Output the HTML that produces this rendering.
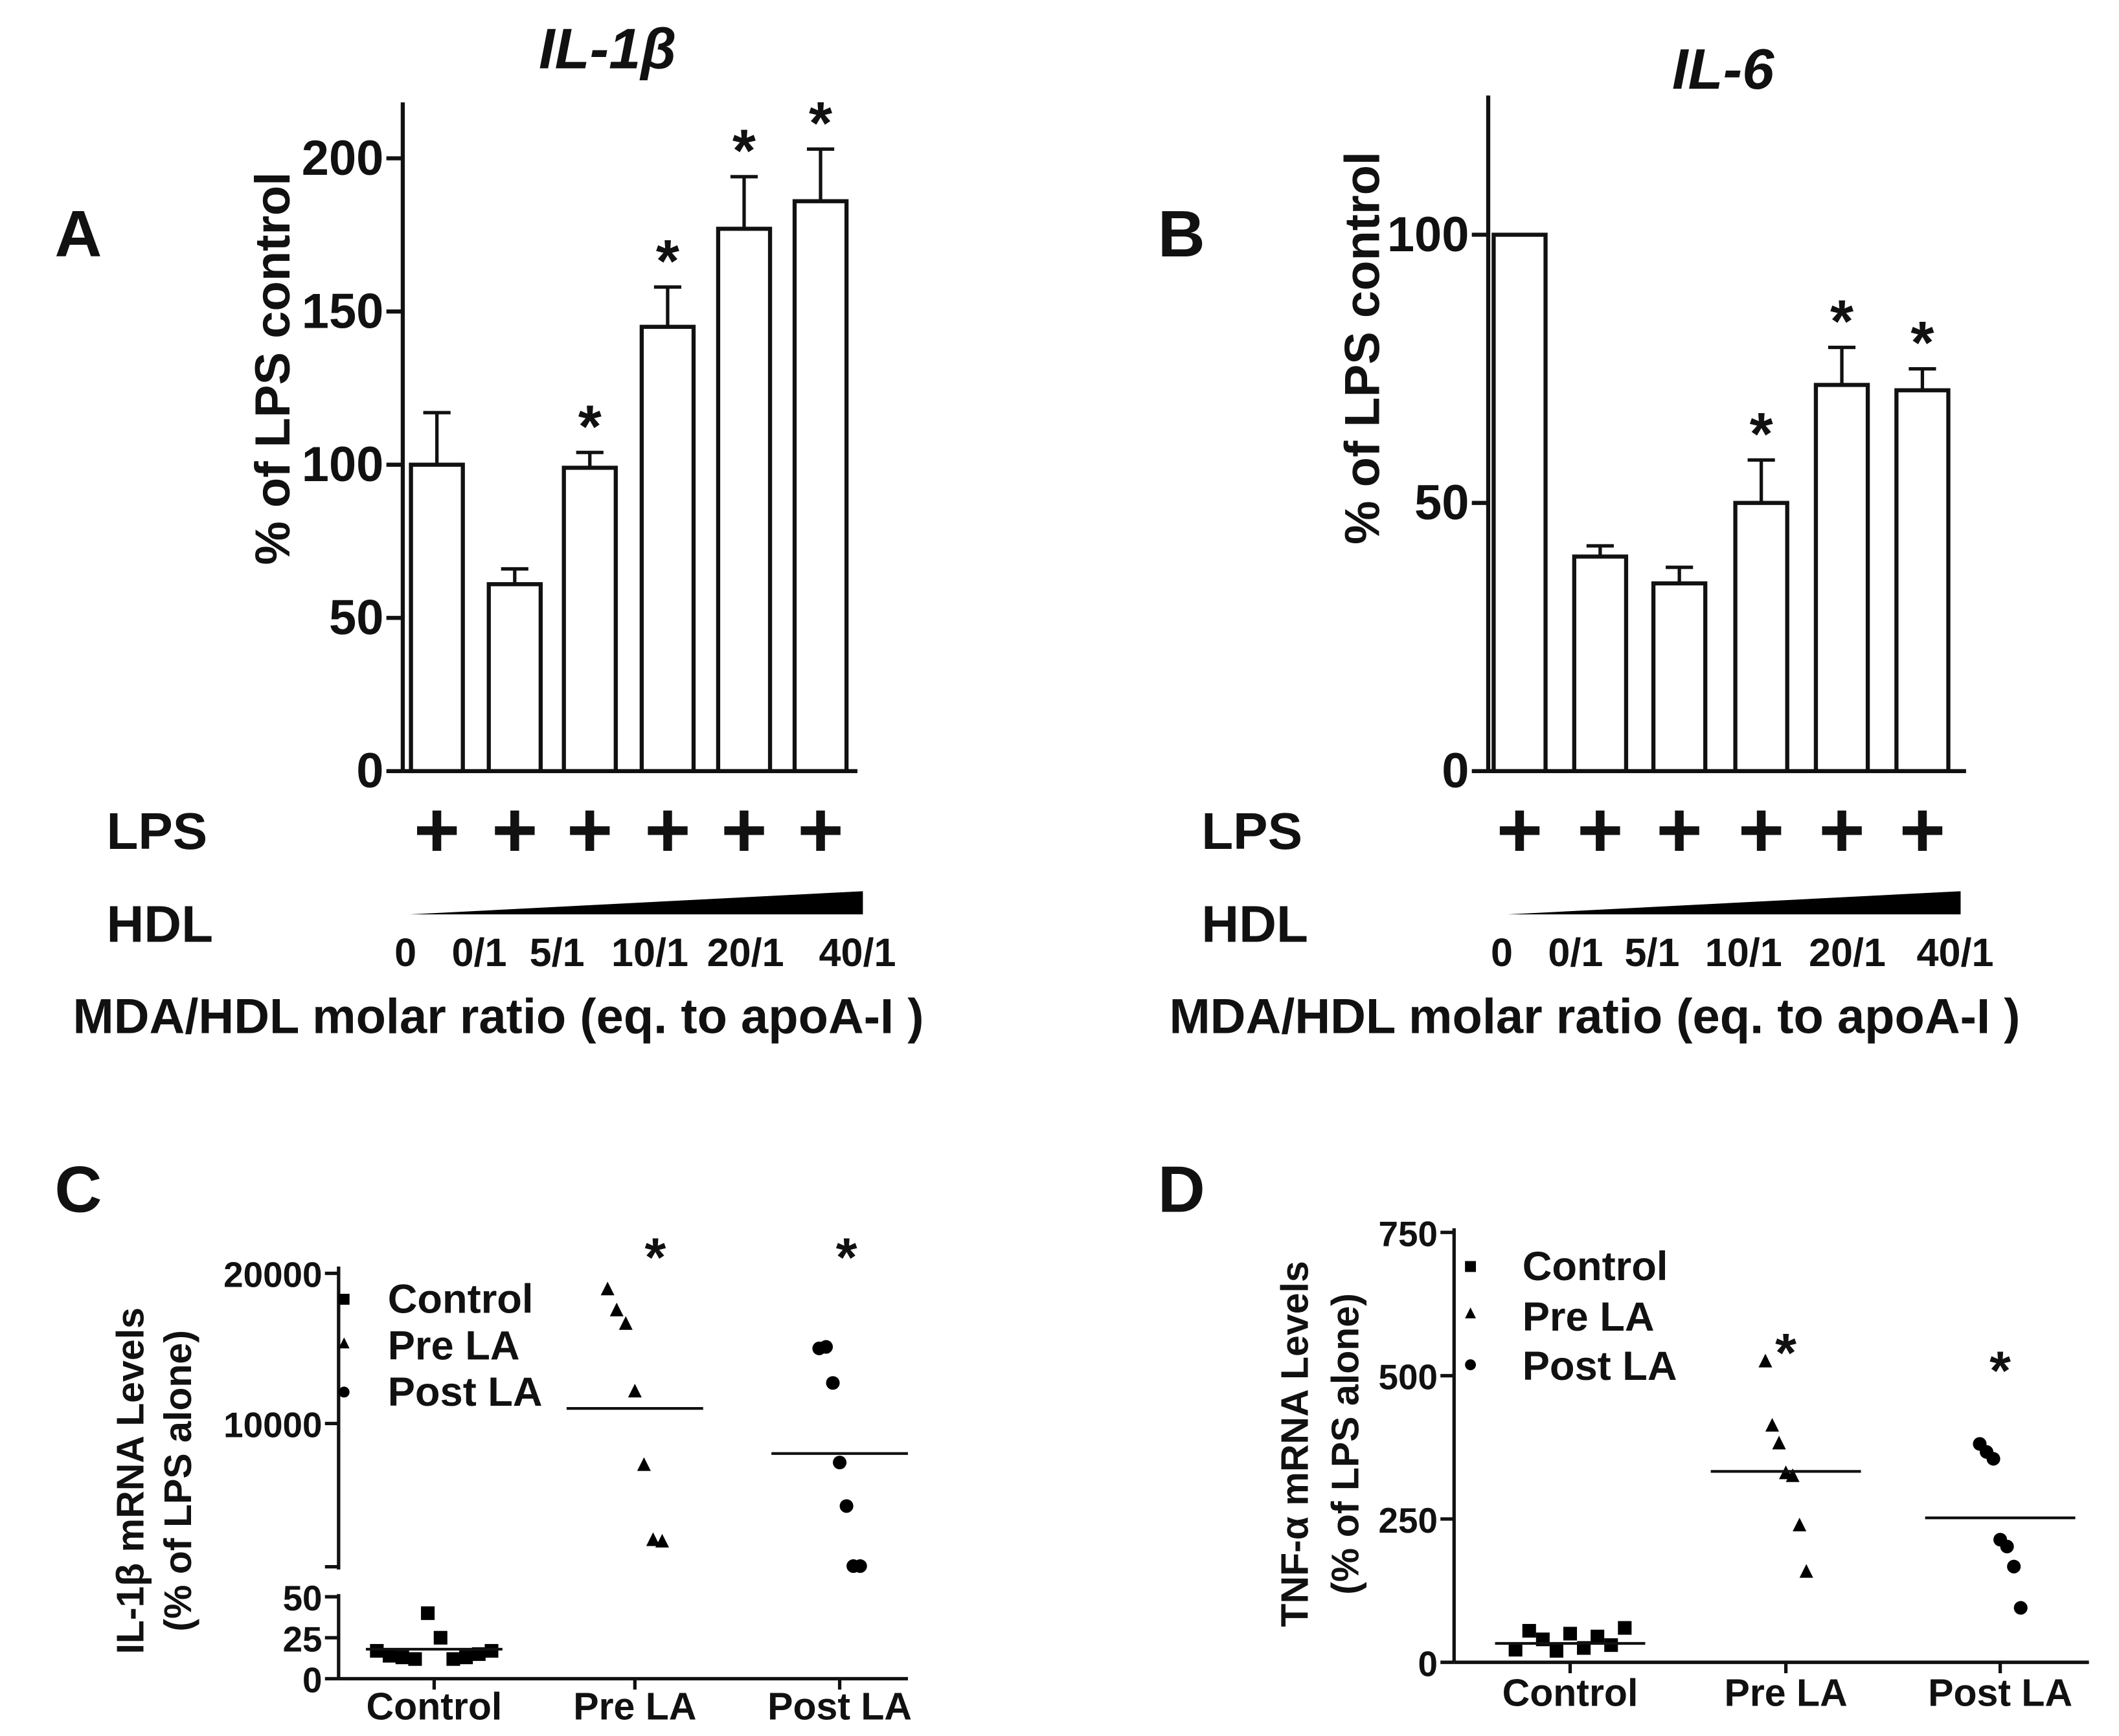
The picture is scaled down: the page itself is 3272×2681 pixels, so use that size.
<!DOCTYPE html>
<html><head><meta charset="utf-8"><style>
html,body{margin:0;padding:0;background:#fff}
svg{display:block}
text{font-family:"Liberation Sans",Arial,sans-serif;font-weight:bold;fill:#111}
</style></head><body>
<svg id="fig" width="3272" height="2681" viewBox="0 0 1552 1272" preserveAspectRatio="none" xmlns="http://www.w3.org/2000/svg"></svg>
<script>
// Panel A data
const aCats=["0","0/1","5/1","10/1","20/1","40/1"];
const aVals=[100,61,99,145,177,186];
const aErr=[17,5,5,13,17,17];
const aStar=[false,false,true,true,true,true];
const aTicks=[0,50,100,150,200];
// Panel B data
const bCats=["0","0/1","5/1","10/1","20/1","40/1"];
const bVals=[100,40,35,50,72,71];
const bErr=[0,2,3,8,7,4];
const bStar=[false,false,false,true,true,true];
const bTicks=[0,50,100];
// Panel C data
const cCats=["Control","Pre LA","Post LA"];
const cControl=[17,14,13,12,40,25,12,13,15,17];
const cPre=[18900,17500,16600,12100,7200,2200,2100];
const cPost=[15000,15100,12700,7400,4500,500,500];
const cMeans=[18,11000,8000];
const cTicksHi=[10000,20000];
const cTicksLo=[0,25,50];
// Panel D data
const dCats=["Control","Pre LA","Post LA"];
const dControl=[22,55,40,20,50,25,45,30,60];
const dPre=[524,412,381,329,324,238,157];
const dPost=[381,367,355,214,202,167,95];
const dMeans=[33,333,252];
const dTicks=[0,250,500,750];

const NS="http://www.w3.org/2000/svg";
const svg=document.getElementById('fig');
function el(tag,attrs,parent){const e=document.createElementNS(NS,tag);for(const k in attrs)e.setAttribute(k,attrs[k]);(parent||svg).appendChild(e);return e;}
function txt(s,x,y,size,anchor,name,extra){const t=el('text',Object.assign({x:x,y:y,'font-size':size,'text-anchor':anchor||'start'},extra||{}));t.textContent=s;


return t;}
function line(x1,y1,x2,y2,w,name){const l=el('line',{x1,y1,x2,y2,stroke:'#111','stroke-width':w||2.5});


return l;}

function barPanel(cfg){
  const {vals,err,star,ticks,cats,ax,y0,y1,v1,top,right,centers,bw,labelX}=cfg;
  const sy=v=>y0-(v/v1)*(y0-y1);
  line(ax,top,ax,y0,3,cfg.p+'-y-axis');
  line(ax,y0,right,y0,3,cfg.p+'-x-axis');
  ticks.forEach(t=>{line(ax-12,sy(t),ax,sy(t),3,cfg.p+'-y-tick');txt(String(t),ax-14,sy(t)+12,36,'end',cfg.p+'-y-tick-label');});
  vals.forEach((v,i)=>{
    const cx=centers[i];
    if(err[i]>0){line(cx,sy(v+err[i]),cx,sy(v),2.5,cfg.p+'-error-bar');line(cx-10,sy(v+err[i]),cx+10,sy(v+err[i]),2.5,cfg.p+'-error-cap');}
    const r=el('rect',{x:cx-bw/2,y:sy(v),width:bw,height:y0-sy(v),fill:'#fff',stroke:'#111','stroke-width':3});
    
    
    if(star[i])txt('*',cx,sy(v+err[i])-4,44,'middle',cfg.p+'-significance-star');
    txt('+',cx,628,58,'middle',cfg.p+'-lps-plus');
    txt(cats[i],labelX[i],708,29,'middle',cfg.p+'-ratio-label');
  });
  const tri=el('polygon',{points:`${cfg.wx1},670 ${cfg.wx2},653 ${cfg.wx2},670`,fill:'#000'});
  
  
}

// Panel A
txt('IL-1β',445,50,42,'middle','title-il1b',{'font-style':'italic'});
txt('A',40,188,48,'start','panel-label-a');
barPanel({p:'a',vals:aVals,err:aErr,star:aStar,ticks:aTicks,cats:aCats,ax:295,y0:565,y1:116,v1:200,top:75,right:628,centers:[320,377,432,489,545,601],bw:38,wx1:300,wx2:632,labelX:[297,351,408,476,546,628]});
txt('% of LPS control',0,0,36,'middle','a-y-axis-title',{transform:'translate(212,270) rotate(-90)'});
txt('LPS',78,622,38,'start','a-lps-label');
txt('HDL',78,690,38,'start','a-hdl-label');
txt('MDA/HDL molar ratio (eq. to apoA-I )',365,757,36,'middle','a-x-axis-title');

// Panel B
txt('IL-6',1262,65,42,'middle','title-il6',{'font-style':'italic'});
txt('B',848,188,48,'start','panel-label-b');
barPanel({p:'b',vals:bVals,err:bErr,star:bStar,ticks:bTicks,cats:bCats,ax:1090,y0:565,y1:172,v1:100,top:70,right:1440,centers:[1113,1172,1230,1290,1349,1408],bw:38,wx1:1104,wx2:1436,labelX:[1100,1154,1210,1277,1353,1432]});
txt('% of LPS control',0,0,36,'middle','b-y-axis-title',{transform:'translate(1010,255) rotate(-90)'});
txt('LPS',880,622,38,'start','b-lps-label');
txt('HDL',880,690,38,'start','b-hdl-label');
txt('MDA/HDL molar ratio (eq. to apoA-I )',1168,757,36,'middle','b-x-axis-title');

function marker(kind,x,y,s,name){
  let m;
  if(kind==='sq')m=el('rect',{x:x-s,y:y-s,width:2*s,height:2*s,fill:'#000'});
  else if(kind==='tri')m=el('polygon',{points:`${x},${y-s-1} ${x-s},${y+s-1} ${x+s},${y+s-1}`,fill:'#000'});
  else m=el('circle',{cx:x,cy:y,r:s,fill:'#000'});
  
  
}
function spread(n,cx,w){const a=[];for(let i=0;i<n;i++)a.push(cx-w/2+(n>1?i*w/(n-1):0));return a;}

// Panel C
txt('C',40,888,48,'start','panel-label-c');
const cx0=248,cCenters=[318,465,615];
const cHi=v=>1043-(v-10000)*0.011;
const cLo=v=>1230-v*1.2;
const cY=v=>v<=60?cLo(v):cHi(v);
line(cx0,928,cx0,1150,2.5,'c-y-axis-upper');
line(cx0,1168,cx0,1230,2.5,'c-y-axis-lower');
line(cx0,1230,665,1230,2.5,'c-x-axis');
cTicksHi.forEach(t=>{line(cx0-10,cHi(t),cx0,cHi(t),2.5,'c-y-tick');txt(String(t),cx0-12,cHi(t)+10,26,'end','c-y-tick-label');});
line(cx0-10,1148,cx0,1148,2.5,'c-y-tick');
cTicksLo.forEach(t=>{line(cx0-10,cLo(t),cx0,cLo(t),2.5,'c-y-tick');txt(String(t),cx0-12,cLo(t)+10,26,'end','c-y-tick-label');});
cCats.forEach((c,i)=>{line(cCenters[i],1230,cCenters[i],1238,2.5,'c-x-tick');txt(c,cCenters[i],1260,28,'middle','c-x-tick-label');});
txt('IL-1β mRNA Levels',0,0,28,'middle','c-y-axis-title',{transform:'translate(105,1085) rotate(-90)'});
txt('(% of LPS alone)',0,0,28,'middle','c-y-axis-title-2',{transform:'translate(140,1085) rotate(-90)'});
spread(cControl.length,cCenters[0],84).forEach((x,i)=>marker('sq',x,cY(cControl[i]),5,'c-control-point'));
spread(cPre.length,cCenters[1],40).forEach((x,i)=>marker('tri',x,cY(cPre[i]),5,'c-prela-point'));
spread(cPost.length,cCenters[2],30).forEach((x,i)=>marker('dot',x,cY(cPost[i]),5,'c-postla-point'));
cMeans.forEach((m,i)=>line(cCenters[i]-50,cY(m),cCenters[i]+50,cY(m),2,'c-mean-line'));
txt('*',cCenters[1]+15,935,40,'middle','c-star');
txt('*',cCenters[2]+5,935,40,'middle','c-star');
marker('sq',252,952,4,'c-legend-control');marker('tri',252,985,4,'c-legend-prela');marker('dot',252,1020,4,'c-legend-postla');
txt('Control',284,962,30,'start','c-legend-text');
txt('Pre LA',284,996,30,'start','c-legend-text');
txt('Post LA',284,1030,30,'start','c-legend-text');

// Panel D
txt('D',848,888,48,'start','panel-label-d');
const dx0=1065,dCenters=[1150,1308,1465];
const dY=v=>1218-v*0.42;
line(dx0,900,dx0,1218,2.5,'d-y-axis');
line(dx0,1218,1530,1218,2.5,'d-x-axis');
dTicks.forEach(t=>{line(dx0-10,dY(t),dx0,dY(t),2.5,'d-y-tick');txt(String(t),dx0-12,dY(t)+10,26,'end','d-y-tick-label');});
dCats.forEach((c,i)=>{line(dCenters[i],1218,dCenters[i],1226,2.5,'d-x-tick');txt(c,dCenters[i],1250,28,'middle','d-x-tick-label');});
txt('TNF-α mRNA Levels',0,0,28,'middle','d-y-axis-title',{transform:'translate(958,1058) rotate(-90)'});
txt('(% of LPS alone)',0,0,28,'middle','d-y-axis-title-2',{transform:'translate(995,1058) rotate(-90)'});
spread(dControl.length,dCenters[0],80).forEach((x,i)=>marker('sq',x,dY(dControl[i]),5,'d-control-point'));
spread(dPre.length,dCenters[1],30).forEach((x,i)=>marker('tri',x,dY(dPre[i]),5,'d-prela-point'));
spread(dPost.length,dCenters[2],30).forEach((x,i)=>marker('dot',x,dY(dPost[i]),5,'d-postla-point'));
dMeans.forEach((m,i)=>line(dCenters[i]-55,dY(m),dCenters[i]+55,dY(m),2,'d-mean-line'));
txt('*',dCenters[1],1005,40,'middle','d-star');
txt('*',dCenters[2],1018,40,'middle','d-star');
marker('sq',1077,928,4,'d-legend-control');marker('tri',1077,963,4,'d-legend-prela');marker('dot',1077,1000,4,'d-legend-postla');
txt('Control',1115,938,30,'start','d-legend-text');
txt('Pre LA',1115,975,30,'start','d-legend-text');
txt('Post LA',1115,1011,30,'start','d-legend-text');
</script>
</body></html>
